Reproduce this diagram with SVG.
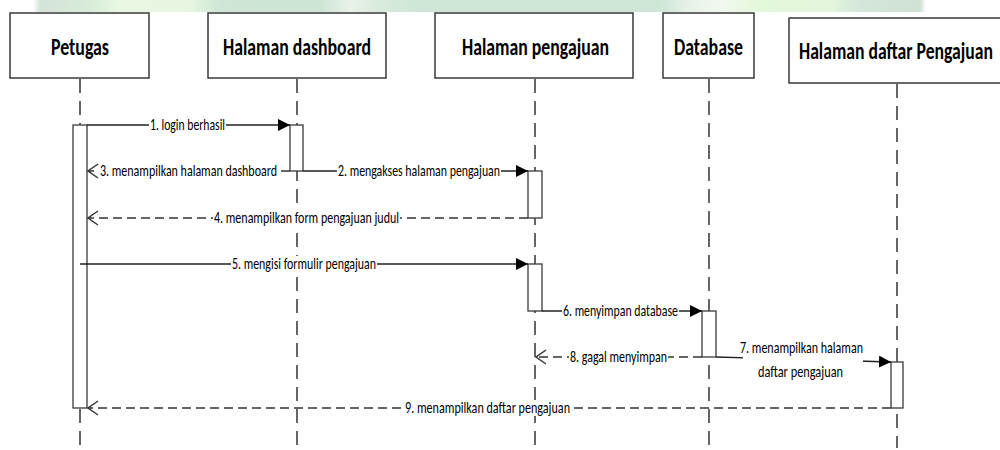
<svg xmlns="http://www.w3.org/2000/svg" width="1000" height="450" viewBox="0 0 1000 450">
  <defs>
    <style>
      .box { fill: #ffffff; stroke: #3a3a3a; stroke-width: 1.5; }
      .title { font-family: Carlito, "Liberation Sans Narrow", "Liberation Sans", sans-serif; font-size: 24px; font-weight: bold; fill: #000; }
      .lifeline { stroke: #333; stroke-width: 1.5; stroke-dasharray: 14 8; fill: none; }
      .act { fill: #ffffff; stroke: #3a3a3a; stroke-width: 1.3; }
      .msg { stroke: #222; stroke-width: 1.4; fill: none; }
      .ret { stroke: #333; stroke-width: 1.5; stroke-dasharray: 9 5; fill: none; }
      .lbl { font-family: Carlito, "Liberation Sans Narrow", "Liberation Sans", sans-serif; font-size: 16px; fill: #000; }
      .bg { fill: #ffffff; }
    </style>
    <marker id="solidHead" viewBox="0 0 12 12" refX="12" refY="6" markerWidth="12" markerHeight="12" markerUnits="userSpaceOnUse" orient="auto">
      <path d="M0,0 L12,6 L0,12 Z" fill="#000"/>
    </marker>
    <marker id="openHead" viewBox="0 0 12 16" refX="11" refY="8" markerWidth="12" markerHeight="16" markerUnits="userSpaceOnUse" orient="auto">
      <path d="M1,1 L11,8 L1,15" fill="none" stroke="#333" stroke-width="1.4"/>
    </marker>
    <linearGradient id="band" x1="0" y1="0" x2="1000" y2="0" gradientUnits="userSpaceOnUse">
      <stop offset="0.033" stop-color="#ffffff"/>
      <stop offset="0.04" stop-color="#d5e3d8"/>
      <stop offset="0.09" stop-color="#d8ecd9"/>
      <stop offset="0.12" stop-color="#e8f8e2"/>
      <stop offset="0.19" stop-color="#e6f6e0"/>
      <stop offset="0.22" stop-color="#cfe6d6"/>
      <stop offset="0.32" stop-color="#cde5d5"/>
      <stop offset="0.35" stop-color="#e8f2ea"/>
      <stop offset="0.38" stop-color="#d9ebdc"/>
      <stop offset="0.42" stop-color="#cde6d6"/>
      <stop offset="0.66" stop-color="#cde6d6"/>
      <stop offset="0.69" stop-color="#e8f2ea"/>
      <stop offset="0.72" stop-color="#f2f8ef"/>
      <stop offset="0.76" stop-color="#e4f8da"/>
      <stop offset="0.83" stop-color="#e4f6dc"/>
      <stop offset="0.86" stop-color="#d3e6da"/>
      <stop offset="0.92" stop-color="#d0e1d6"/>
      <stop offset="0.926" stop-color="#ffffff"/>
    </linearGradient>
  </defs>

  <rect width="1000" height="450" fill="#ffffff"/>
  <!-- pale green strip along the top edge -->
  <rect x="0" y="0" width="1000" height="12" fill="url(#band)"/>

  <!-- lifelines -->
  <g id="lifelines">
    <line class="lifeline" x1="80" y1="79" x2="80" y2="448"/>
    <line class="lifeline" x1="297" y1="79" x2="297" y2="448"/>
    <line class="lifeline" x1="535" y1="79" x2="535" y2="448"/>
    <line class="lifeline" x1="709" y1="79" x2="709" y2="448"/>
    <line class="lifeline" x1="897" y1="84" x2="897" y2="448"/>
  </g>

  <!-- participants -->
  <g id="petugas">
    <rect class="box" x="10" y="13" width="139" height="65"/>
    <text class="title" x="51" y="55" textLength="58" lengthAdjust="spacingAndGlyphs">Petugas</text>
  </g>
  <g id="halaman-dashboard">
    <rect class="box" x="208" y="13" width="178" height="65"/>
    <text class="title" x="223" y="55" textLength="148" lengthAdjust="spacingAndGlyphs">Halaman dashboard</text>
  </g>
  <g id="halaman-pengajuan">
    <rect class="box" x="435" y="13" width="198" height="65"/>
    <text class="title" x="462" y="55" textLength="147" lengthAdjust="spacingAndGlyphs">Halaman pengajuan</text>
  </g>
  <g id="database">
    <rect class="box" x="663" y="13" width="91" height="65"/>
    <text class="title" x="674" y="55" textLength="69" lengthAdjust="spacingAndGlyphs">Database</text>
  </g>
  <g id="halaman-daftar-pengajuan">
    <path class="box" d="M1001,18 H789 V83 H1001"/>
    <text class="title" x="799" y="59" textLength="194" lengthAdjust="spacingAndGlyphs">Halaman daftar Pengajuan</text>
  </g>

  <!-- activation bars -->
  <g id="activations">
    <rect class="act" x="73" y="125" width="14" height="283"/>
    <rect class="act" x="290" y="125" width="13" height="46"/>
    <rect class="act" x="528" y="171" width="14" height="47"/>
    <rect class="act" x="528" y="264" width="14" height="47"/>
    <rect class="act" x="702" y="311" width="14" height="46"/>
    <rect class="act" x="891" y="362" width="12" height="46"/>
  </g>

  <!-- messages -->
  <g id="connectors">
    <line class="msg" x1="87" y1="125" x2="290" y2="125" marker-end="url(#solidHead)"/>
    <rect class="bg" x="149" y="117" width="77" height="16"/>
    <text class="lbl" x="150" y="130" textLength="75" lengthAdjust="spacingAndGlyphs">1. login berhasil</text>

    <line class="msg" x1="303" y1="171" x2="528" y2="171" marker-end="url(#solidHead)"/>
    <rect class="bg" x="337" y="163" width="164" height="16"/>
    <text class="lbl" x="338" y="176" textLength="162" lengthAdjust="spacingAndGlyphs">2. mengakses halaman pengajuan</text>

    <line class="ret" x1="290" y1="171" x2="88" y2="171" marker-end="url(#openHead)"/>
    <rect class="bg" x="99" y="163" width="180" height="16"/>
    <text class="lbl" x="100" y="176" textLength="177" lengthAdjust="spacingAndGlyphs">3. menampilkan halaman dashboard</text>

    <line class="ret" x1="528" y1="218" x2="88" y2="218" marker-end="url(#openHead)"/>
    <rect class="bg" x="213" y="210" width="187" height="16"/>
    <text class="lbl" x="214" y="223" textLength="185" lengthAdjust="spacingAndGlyphs">4. menampilkan form pengajuan judul</text>

    <line class="msg" x1="80" y1="264" x2="528" y2="264" marker-end="url(#solidHead)"/>
    <rect class="bg" x="231" y="256" width="146" height="16"/>
    <text class="lbl" x="232" y="269" textLength="144" lengthAdjust="spacingAndGlyphs">5. mengisi formulir pengajuan</text>

    <line class="msg" x1="542" y1="311" x2="702" y2="311" marker-end="url(#solidHead)"/>
    <rect class="bg" x="562" y="303" width="117" height="16"/>
    <text class="lbl" x="563" y="316" textLength="115" lengthAdjust="spacingAndGlyphs">6. menyimpan database</text>

    <line class="msg" x1="716" y1="357" x2="891" y2="362" marker-end="url(#solidHead)"/>
    <rect class="bg" x="743" y="338" width="120" height="44"/>
    <text class="lbl" x="740" y="353" textLength="123" lengthAdjust="spacingAndGlyphs">7. menampilkan halaman</text>
    <text class="lbl" x="758" y="377" textLength="85" lengthAdjust="spacingAndGlyphs">daftar pengajuan</text>

    <line class="ret" x1="702" y1="357" x2="536" y2="357" marker-end="url(#openHead)"/>
    <rect class="bg" x="569" y="349" width="99" height="16"/>
    <text class="lbl" x="570" y="362" textLength="97" lengthAdjust="spacingAndGlyphs">8. gagal menyimpan</text>

    <line class="ret" x1="891" y1="408" x2="88" y2="408" marker-end="url(#openHead)"/>
    <rect class="bg" x="404" y="400" width="167" height="16"/>
    <text class="lbl" x="405" y="413" textLength="165" lengthAdjust="spacingAndGlyphs">9. menampilkan daftar pengajuan</text>
  </g>
</svg>
